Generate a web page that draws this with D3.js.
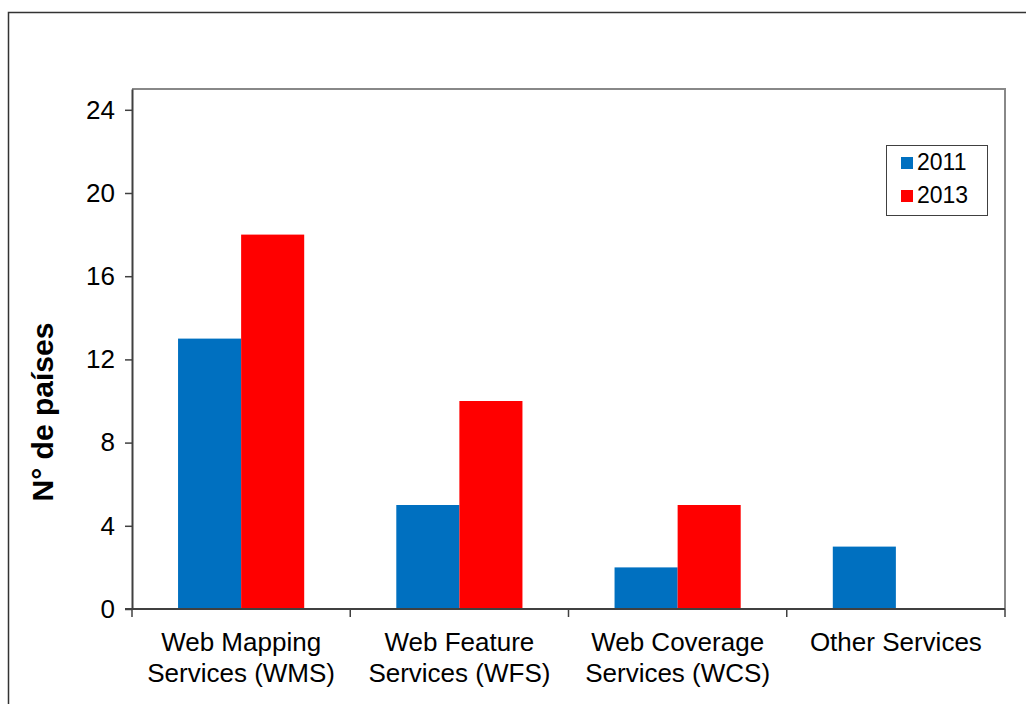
<!DOCTYPE html>
<html><head><meta charset="utf-8">
<script src="https://cdn.jsdelivr.net/npm/d3@7"></script>
<style>body{margin:0;background:#fff}svg{display:block}text{font-family:"Liberation Sans",Arial,sans-serif;fill:#000}</style>
</head><body>
<svg id="c" width="1026" height="704"></svg>
<script>
const categories = [["Web Mapping","Services (WMS)"],["Web Feature","Services (WFS)"],["Web Coverage","Services (WCS)"],["Other Services"]];
const seriesNames = ["2011","2013"];
const values2011 = [13,5,2,3];
const values2013 = [18,10,5,0];
const yTicks = [0,4,8,12,16,20,24];
const colors = ["#0070C0","#FF0000"];

const svg = d3.select("#c");
const L=132,R=1005,T=89,B=609;
svg.append("rect").attr("x",8.5).attr("y",12.5).attr("width",1040).attr("height",720).attr("fill","none").attr("stroke","#333").attr("stroke-width",1.5);

const x = d3.scaleBand().domain(d3.range(categories.length)).range([L,R]).paddingInner(0).paddingOuter(0);
const xs = d3.scaleBand().domain(seriesNames).range([0,x.bandwidth()]).paddingInner(0).paddingOuter(0.73);
const y = d3.scaleLinear().domain([0,25]).range([B,T]);

// plot border (top/right)
svg.append("path").attr("d",`M${L},${T}H${R}V${B}`).attr("fill","none").attr("stroke","#888").attr("stroke-width",2);

const data = categories.map((c,i)=>({i, vals:[values2011[i],values2013[i]]}));
const g = svg.append("g");
data.forEach(d=>{
  d.vals.forEach((v,k)=>{
    if(v<=0) return;
    g.append("rect").attr("x",x(d.i)+xs(seriesNames[k])).attr("y",y(v)).attr("width",xs.bandwidth()).attr("height",y(0)-y(v)).attr("fill",colors[k]);
  });
});

// y axis
const ya = svg.append("g").attr("transform",`translate(${L},0)`).call(d3.axisLeft(y).tickValues(yTicks).tickSize(7).tickSizeOuter(0).tickPadding(10));
ya.select(".domain").attr("stroke","#404040").attr("stroke-width",2);
ya.selectAll(".tick line").attr("stroke","#404040").attr("stroke-width",1.5);
ya.selectAll("text").style("font-size","26px").attr("font-family","Liberation Sans, Arial, sans-serif");

// x axis
svg.append("line").attr("x1",L-7).attr("x2",R).attr("y1",B).attr("y2",B).attr("stroke","#404040").attr("stroke-width",2);
d3.range(categories.length+1).forEach(k=>{
  const xx = k<categories.length ? x(k) : R;
  svg.append("line").attr("x1",xx).attr("x2",xx).attr("y1",B).attr("y2",B+8).attr("stroke","#404040").attr("stroke-width",1.5);
});
categories.forEach((c,i)=>{
  const t = svg.append("text").attr("x",x(i)+x.bandwidth()/2).attr("y",651).attr("text-anchor","middle").style("font-size","26px");
  c.forEach((line,j)=>t.append("tspan").attr("x",x(i)+x.bandwidth()/2).attr("dy",j?31:0).text(line));
});

// y title
svg.append("text").attr("transform","translate(53,412) rotate(-90)").attr("text-anchor","middle").style("font-size","30px").style("font-weight","bold").text("N° de países");

// legend
const lg = svg.append("g");
lg.append("rect").attr("x",886.5).attr("y",145.5).attr("width",101).attr("height",70).attr("fill","#fff").attr("stroke","#404040").attr("stroke-width",1);
seriesNames.forEach((s,k)=>{
  lg.append("rect").attr("x",901).attr("y",157+k*33).attr("width",12).attr("height",12).attr("fill",colors[k]);
  lg.append("text").attr("x",917).attr("y",170+k*33).style("font-size","23px").text(s);
});
</script>
</body></html>
